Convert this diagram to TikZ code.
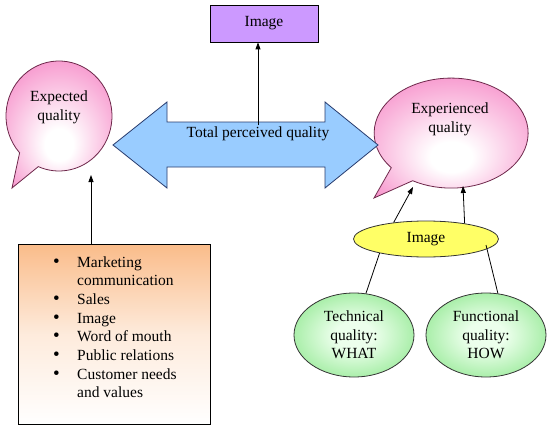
\documentclass[tikz,border=0pt]{standalone}
\usepackage{fontspec}
\setmainfont{Liberation Serif}
\usetikzlibrary{arrows.meta,shapes.geometric}
\definecolor{pinkc}{RGB}{246,136,198}
\definecolor{pinkline}{RGB}{110,40,75}
\definecolor{bluec}{RGB}{153,204,255}
\definecolor{blueline}{RGB}{40,60,110}
\definecolor{purplec}{RGB}{204,153,255}
\definecolor{yellowc}{RGB}{255,255,102}
\definecolor{greenc}{RGB}{112,224,112}
\definecolor{greenin}{RGB}{236,255,236}
\definecolor{peachc}{RGB}{250,188,138}
\pgfdeclareradialshading{pinksh}{\pgfpoint{0bp}{-10bp}}{color(0bp)=(white); color(6bp)=(white); color(32bp)=(pinkc); color(50bp)=(pinkc)}
\pgfdeclareradialshading{greensh}{\pgfpoint{0bp}{0bp}}{color(0bp)=(greenin); color(8bp)=(greenin); color(40bp)=(greenc); color(50bp)=(greenc)}
\tikzset{
  txt/.style={font=\fontsize{15.5}{18.7}\selectfont, align=center},
  conn/.style={line width=0.8pt, black},
  arr/.style={conn, -{Triangle[length=7pt,width=5pt]}},
  balloon/.style={draw=pinkline, line width=0.8pt, shading=pinksh},
  greenell/.style={ellipse, draw=black!80, line width=0.8pt, shading=greensh, inner sep=0pt, minimum width=120pt, minimum height=84pt, txt},
}
\newcommand{\bigbul}{{\fontsize{19}{18.7}\selectfont\textbullet}}
\begin{document}
\begin{tikzpicture}[x=1pt,y=1pt]
\useasboundingbox (0,0) rectangle (554,432);
\fill[white] (0,0) rectangle (554,432);

% Expected quality balloon
\path[balloon] (12,244) -- (19.6,279.2) arc[start angle=222, end angle=-113, x radius=53, y radius=55] -- cycle;
\node[txt] (expT) at (59,325) {Expected\\quality};
\coordinate (expB) at (91,257);

% Experienced quality balloon
\path[balloon] (374,234) -- (391.3,264.3) arc[start angle=219, end angle=-120, x radius=77, y radius=55] -- cycle;
\node[txt] (expdT) at (450,313) {Experienced\\quality};
\coordinate (expdL) at (413,245);
\coordinate (expdR) at (463,246);

% double arrow
\path[draw=blueline, fill=bluec, line width=0.8pt]
  (113,287) -- (167,330) -- (167,310) -- (325,310) -- (325,330) -- (378,287)
  -- (325,244) -- (325,265) -- (167,265) -- (167,244) -- cycle;
\node[txt] (tpq) at (258,298) {Total perceived quality};
\coordinate (tpqS) at (258,307);

% top image box
\node[draw=black, line width=0.8pt, fill=purplec, minimum width=108pt, minimum height=37pt, inner sep=0pt, txt] (img) at (264,408.5) {Image};
\draw[arr] (tpqS) -- (tpqS |- img.south);

% list box
\node[draw=black, line width=0.8pt, shading=axis, top color=peachc, bottom color=white, middle color=peachc!30, minimum width=192pt, minimum height=180pt, inner sep=0pt] (ext) at (114,98) {};
\draw[arr] (expB |- ext.north) -- (expB);
\node[anchor=base west, inner sep=0pt, font=\fontsize{15.5}{18.7}\selectfont] (list) at (53,165)
{\begin{tabular}[t]{@{}p{24pt}@{}l@{}}
\bigbul & Marketing\\
 & communication\\
\bigbul & Sales\\
\bigbul & Image\\
\bigbul & Word of mouth\\
\bigbul & Public relations\\
\bigbul & Customer needs\\
 & and values
\end{tabular}};

% image ellipse and quality ellipses
\node[ellipse, draw=black!80, line width=0.8pt, fill=yellowc, minimum width=145pt, minimum height=36pt, inner sep=0pt, txt] (imgE) at (426,193) {Image};
\node[greenell] (tech) at (354,97) {Technical\\quality:\\WHAT};
\node[greenell] (func) at (486,97) {Functional\\quality:\\HOW};
\coordinate (imgIn) at (486,187);
\draw[conn] (tech.74) -- (imgE.197);
\draw[conn] (func.74) -- (imgIn);
\draw[arr] (imgE.153) -- (expdL);
\draw[arr] (imgE.22) -- (expdR);
\end{tikzpicture}
\end{document}
